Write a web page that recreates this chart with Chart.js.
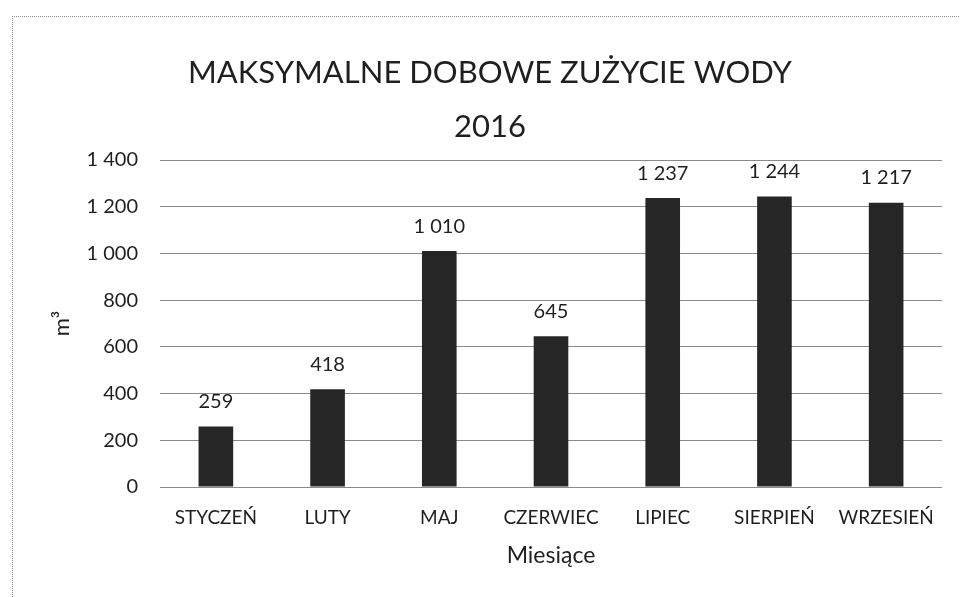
<!DOCTYPE html>
<html>
<head>
<meta charset="utf-8">
<script src="https://cdn.jsdelivr.net/npm/chart.js"></script>
<style>
  html, body { margin: 0; padding: 0; background: #fff; }
  #wrap { position: relative; width: 960px; height: 597px; overflow: hidden; }
  #frame {
    position: absolute; left: 12px; top: 16px; width: 1000px; height: 700px;
    border-left: 1px dotted #8c8c8c; border-top: 1px dotted #8c8c8c;
  }
  #chart { position: absolute; left: 0; top: 0; }
</style>
</head>
<body>
<div id="wrap">
  <div id="frame"></div>
  <canvas id="chart" width="960" height="597"></canvas>
</div>
<script>
// Chart data
const months = ['STYCZEŃ', 'LUTY', 'MAJ', 'CZERWIEC', 'LIPIEC', 'SIERPIEŃ', 'WRZESIEŃ'];
const maxDailyUse = [259, 418, 1010, 645, 1237, 1244, 1217];
const yTicks = [0, 200, 400, 600, 800, 1000, 1200, 1400];

const FONT = 'Lato, "Open Sans", sans-serif';
const INK = '#1f1f1f';

// "1 237" style grouping with a plain space
function groupThousands(v) {
    return String(v).replace(/\B(?=(\d{3})+(?!\d))/g, ' ');
}

// Value labels above each bar
const valueLabels = {
    id: 'valueLabels',
    afterDatasetsDraw(chart) {
        const ctx = chart.ctx;
        const meta = chart.getDatasetMeta(0);
        ctx.save();
        ctx.font = '20px ' + FONT;
        ctx.fillStyle = INK;
        ctx.textAlign = 'center';
        ctx.textBaseline = 'middle';
        meta.data.forEach((bar, i) => {
            ctx.fillText(groupThousands(maxDailyUse[i]), bar.x, bar.y - 25);
        });
        ctx.restore();
    }
};

const ctx = document.getElementById('chart').getContext('2d');
new Chart(ctx, {
    type: 'bar',
    data: {
        labels: months,
        datasets: [{
            label: 'Maksymalne dobowe zużycie wody',
            data: maxDailyUse,
            backgroundColor: '#262626',
            borderWidth: 0,
            barPercentage: 0.31,
            categoryPercentage: 1
        }]
    },
    options: {
        responsive: false,
        animation: false,
        layout: {
            // left padding shifts the title centre to match the original
            padding: { top: 0, right: 18, bottom: 0, left: 38 }
        },
        plugins: {
            legend: { display: false },
            tooltip: { enabled: false },
            title: {
                display: true,
                text: ['MAKSYMALNE DOBOWE ZUŻYCIE WODY', '2016'],
                color: INK,
                font: { family: FONT, size: 31, weight: 'normal', lineHeight: 1.742 },
                padding: { top: 46, bottom: 6 }
            }
        },
        scales: {
            x: {
                grid: { display: false, drawTicks: false },
                border: { display: false },
                ticks: {
                    color: INK,
                    font: { family: FONT, size: 19 },
                    padding: 19,
                    maxRotation: 0,
                    autoSkip: false
                },
                title: {
                    display: true,
                    text: 'Miesiące',
                    color: INK,
                    font: { family: FONT, size: 23 },
                    padding: { top: 0, bottom: 28 }
                },
                afterFit(scale) { scale.height = 110; }
            },
            y: {
                min: 0,
                max: 1400,
                afterBuildTicks(scale) {
                    scale.ticks = yTicks.map(v => ({ value: v }));
                },
                grid: { color: '#8a8a8a', lineWidth: 1, drawTicks: false },
                border: { display: false },
                ticks: {
                    color: INK,
                    font: { family: FONT, size: 20 },
                    padding: 22,
                    callback: v => groupThousands(v)
                },
                title: {
                    display: true,
                    text: 'm³',
                    color: INK,
                    font: { family: FONT, size: 22 },
                    padding: { top: 11, bottom: 0 }
                },
                afterFit(scale) { scale.width = 122; }
            }
        }
    },
    plugins: [valueLabels]
});
</script>
</body>
</html>
